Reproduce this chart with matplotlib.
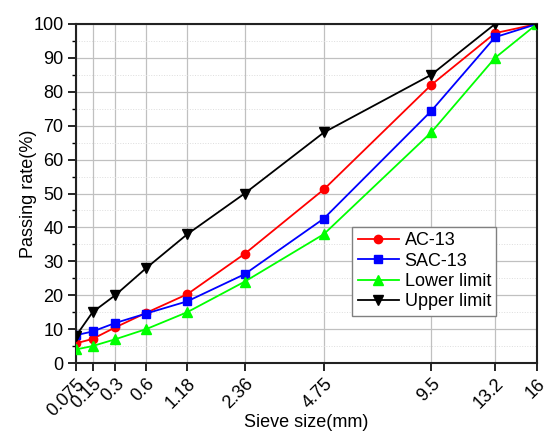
import numpy as np
import matplotlib
matplotlib.use("Agg")
import matplotlib.pyplot as plt
from matplotlib.ticker import MultipleLocator

plt.rcParams['font.family'] = ['Liberation Sans', 'DejaVu Sans']

sieve = [0.075, 0.15, 0.3, 0.6, 1.18, 2.36, 4.75, 9.5, 13.2, 16]
sieve_labels = ['0.075', '0.15', '0.3', '0.6', '1.18', '2.36', '4.75', '9.5', '13.2', '16']
ac13 = [5.8, 7.1, 10.5, 14.8, 20.3, 32.2, 51.2, 82.0, 97.3, 100]
sac13 = [8.2, 9.3, 11.8, 14.6, 18.2, 26.2, 42.6, 74.3, 96.1, 100]
lower = [4, 5, 7, 10, 15, 24, 38, 68, 90, 100]
upper = [8, 15, 20, 28, 38, 50, 68, 85, 100, 100]

fig = plt.figure(figsize=(5.5, 4.47), dpi=100)
ax = fig.add_axes([76/550, 1-363/447, (537-76)/550, (363-24)/447])

p = 0.45
ax.set_xscale('function', functions=(lambda x: np.sign(x)*np.abs(x)**p,
                                     lambda y: np.sign(y)*np.abs(y)**(1/p)))

ax.plot(sieve, ac13, color='#ff0000', marker='o', ms=6, lw=1.3, label='AC-13', zorder=5)
ax.plot(sieve, sac13, color='#0000ff', marker='s', ms=6, lw=1.3, label='SAC-13', zorder=5)
ax.plot(sieve, lower, color='#00ff00', marker='^', ms=7, lw=1.3, label='Lower limit', zorder=5)
ax.plot(sieve, upper, color='#000000', marker='v', ms=7, lw=1.3, label='Upper limit', zorder=5)

ax.set_xlim(0.075, 16)
ax.set_ylim(0, 100)
ax.set_xticks(sieve)
ax.set_xticklabels(sieve_labels, rotation=45, ha='right', rotation_mode='anchor', fontsize=13)
ax.xaxis.set_minor_locator(matplotlib.ticker.NullLocator())
ax.yaxis.set_major_locator(MultipleLocator(10))
ax.yaxis.set_minor_locator(MultipleLocator(5))
ax.tick_params(axis='y', labelsize=13)
ax.tick_params(which='major', direction='out', length=6, width=1.2, pad=3)
ax.tick_params(which='minor', direction='out', length=3, width=1.0)

ax.grid(True, which='major', axis='both', color='#c0c0c0', lw=0.9)
ax.grid(True, which='minor', axis='y', color='#dddddd', lw=0.7, ls=':')
ax.set_axisbelow(True)

for s in ax.spines.values():
    s.set_linewidth(1.5)
    s.set_color('#222222')

ax.set_xlabel('Sieve size(mm)', fontsize=13, labelpad=-4)
ax.set_ylabel('Passing rate(%)', fontsize=13, labelpad=-3)

leg = ax.legend(loc='upper left', bbox_to_anchor=(0.599, 0.401), borderaxespad=0,
                fontsize=13, fancybox=False, framealpha=1, edgecolor='#808080',
                handlelength=2.3, labelspacing=0.18, borderpad=0.3, handletextpad=0.3)
leg.get_frame().set_linewidth(1.0)

fig.savefig('out.png', dpi=100)
